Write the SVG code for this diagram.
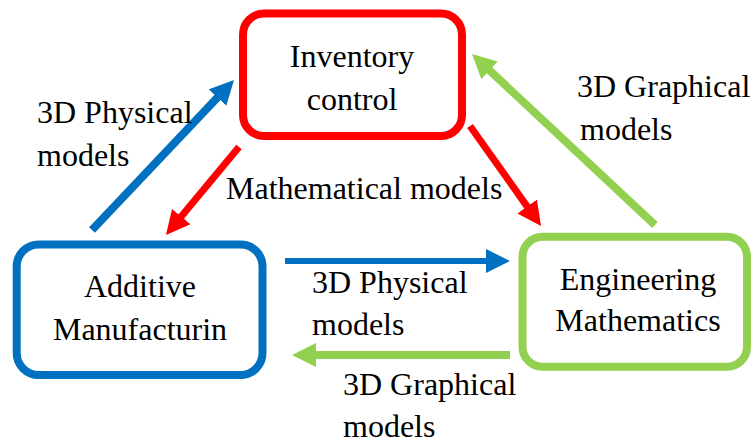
<svg xmlns="http://www.w3.org/2000/svg" width="751" height="443" viewBox="0 0 751 443">
  <defs>
    <marker id="head-blue" markerUnits="userSpaceOnUse" markerWidth="26" markerHeight="26" refX="2" refY="12" orient="auto">
      <path d="M0,0 L24,12 L0,24 z" fill="#0070C0"/>
    </marker>
    <marker id="head-red" markerUnits="userSpaceOnUse" markerWidth="26" markerHeight="26" refX="2" refY="12" orient="auto">
      <path d="M0,0 L24,12 L0,24 z" fill="#FF0000"/>
    </marker>
    <marker id="head-green" markerUnits="userSpaceOnUse" markerWidth="26" markerHeight="26" refX="2" refY="12" orient="auto">
      <path d="M0,0 L24,12 L0,24 z" fill="#92D050"/>
    </marker>
  </defs>
  <style>
    text { font-family: "Liberation Serif", "Times New Roman", serif; font-size: 32px; fill: #000; }
    .node text { text-anchor: middle; }
    .box { fill: #fff; stroke-width: 8; }
    .blue { stroke: #0070C0; }
    .red { stroke: #FF0000; }
    .green { stroke: #92D050; }
    .edge { fill: none; stroke-linecap: butt; }
  </style>
  <rect width="751" height="443" fill="#fff"/>

  <!-- connectors -->
  <g id="connectors">
    <line class="edge blue" x1="92" y1="230" x2="218.9" y2="96.0" stroke-width="8" marker-end="url(#head-blue)"/>
    <line class="edge red" x1="239" y1="147" x2="180.0" y2="218.1" stroke-width="7" marker-end="url(#head-red)"/>
    <line class="edge red" x1="470" y1="126" x2="528.3" y2="208.1" stroke-width="7" marker-end="url(#head-red)"/>
    <line class="edge green" x1="655" y1="225" x2="488.1" y2="69.0" stroke-width="8" marker-end="url(#head-green)"/>
    <line class="edge blue" x1="285" y1="261" x2="488" y2="261" stroke-width="6" marker-end="url(#head-blue)"/>
    <line class="edge green" x1="510" y1="355" x2="314" y2="355" stroke-width="8" marker-end="url(#head-green)"/>
  </g>

  <!-- connector labels -->
  <g id="labels">
    <text x="37" y="123">3D Physical</text>
    <text x="37" y="166">models</text>
    <text x="226" y="199">Mathematical models</text>
    <text x="577" y="97">3D Graphical</text>
    <text x="580" y="140">models</text>
    <text x="312" y="293">3D Physical</text>
    <text x="312" y="335">models</text>
    <text x="343" y="395">3D Graphical</text>
    <text x="343" y="437">models</text>
  </g>

  <!-- nodes -->
  <g id="inventory-control" class="node">
    <rect class="box red" x="243" y="13.5" width="219" height="122.5" rx="21"/>
    <text x="352" y="67">Inventory</text>
    <text x="352" y="110">control</text>
  </g>
  <g id="additive-manufacturing" class="node">
    <rect class="box blue" x="16.7" y="244.5" width="245.8" height="130.5" rx="22"/>
    <text x="140" y="297">Additive</text>
    <text x="140" y="340">Manufacturin</text>
  </g>
  <g id="engineering-mathematics" class="node">
    <rect class="box green" x="522.5" y="236.7" width="224.5" height="130" rx="20"/>
    <text x="638" y="290">Engineering</text>
    <text x="638" y="331">Mathematics</text>
  </g>
</svg>
